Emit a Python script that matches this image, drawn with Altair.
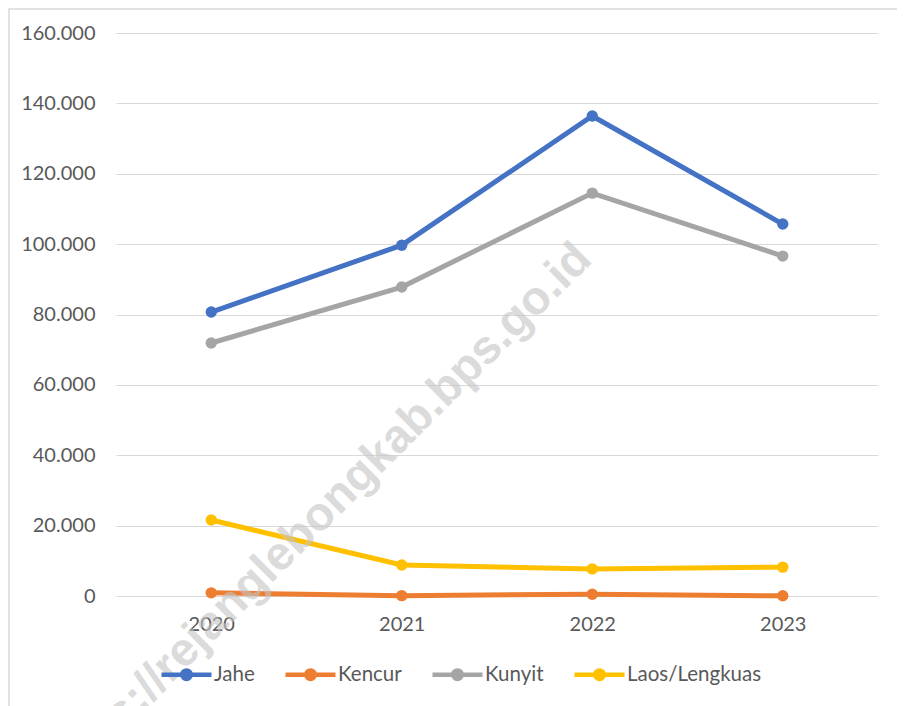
import altair as alt
import pandas as pd

years = ["2020", "2021", "2022", "2023"]
series_names = ["Jahe", "Kencur", "Kunyit", "Laos/Lengkuas"]
jahe = [80700, 99700, 136400, 105700]
kencur = [900, 100, 500, 50]
kunyit = [71900, 87800, 114500, 96600]
laos = [21600, 8800, 7700, 8200]
colors = ["#4472C4", "#ED7D31", "#A5A5A5", "#FFC000"]
y_ticks = [0, 20000, 40000, 60000, 80000, 100000, 120000, 140000, 160000]
watermark = "https://rejanglebongkab.bps.go.id"

rows = []
for name, vals in zip(series_names, [jahe, kencur, kunyit, laos]):
    for yr, v in zip(years, vals):
        rows.append({"Tahun": yr, "Series": name, "Nilai": v})
df = pd.DataFrame(rows)

FONT = "Lato"
TXT = "#595959"
W, H = 762, 563

legend_symbol = "M-1,0L1,0M0.17,0A0.17,0.17,0,1,1,-0.17,0A0.17,0.17,0,1,1,0.17,0Z"
legend = alt.Legend(
    title=None, orient="none", direction="horizontal", columns=4,
    legendX=43, legendY=614, padding=0,
    symbolType=legend_symbol, symbolSize=2500, symbolStrokeWidth=4.5,
    symbolOpacity=1, columnPadding=21, labelOffset=0,
    labelFont=FONT, labelFontSize=20.5, labelColor=TXT,
)
cscale = alt.Scale(domain=series_names, range=colors)

x_enc = alt.X("Tahun:O", scale=alt.Scale(type="point", padding=0.5),
              sort=years,
              axis=alt.Axis(title=None, labelAngle=0, domain=False, ticks=False,
                            grid=False, labelFont=FONT, labelFontSize=20,
                            labelColor=TXT, labelPadding=18))
y_enc = alt.Y("Nilai:Q", scale=alt.Scale(domain=[0, 160000], nice=False),
              axis=alt.Axis(title=None, values=y_ticks, domain=False, ticks=False,
                            grid=True, gridColor="#D9D9D9", gridWidth=1.2,
                            labelFont=FONT, labelFontSize=20, labelColor=TXT,
                            labelPadding=21,
                            labelExpr="replace(format(datum.value, ','), ',', '.')"))

base = alt.Chart(df)
lines = base.mark_line(strokeWidth=5, opacity=1).encode(
    x=x_enc, y=y_enc,
    stroke=alt.Stroke("Series:N", scale=cscale, legend=legend, sort=series_names),
    detail="Series:N",
)
points = base.mark_point(filled=True, size=130, opacity=1, strokeWidth=0).encode(
    x=x_enc, y=y_enc,
    fill=alt.Fill("Series:N", scale=cscale, legend=legend, sort=series_names),
    stroke=alt.Stroke("Series:N", scale=cscale, legend=legend, sort=series_names),
)

border = alt.Chart(pd.DataFrame({"a": [0]})).mark_rect(
    fill="transparent", stroke="#D9D9D9", strokeWidth=1.5
).encode(
    x=alt.value(-107), x2=alt.value(W + 60),
    y=alt.value(-24), y2=alt.value(H + 220),
)

wm = alt.Chart(pd.DataFrame({"t": [watermark]})).mark_text(
    font="Liberation Sans", fontWeight="bold", fontSize=47, angle=315,
    align="center", baseline="middle", color="#C4C4C4", opacity=0.6,
).encode(
    text="t:N", x=alt.value(201), y=alt.value(485),
)

chart = alt.layer(border, lines, points, wm).properties(
    width=W, height=H,
    autosize=alt.AutoSizeParams(type="none"),
    padding={"left": 108, "top": 25, "right": 19, "bottom": 110},
).configure(background="white").configure_view(strokeWidth=0, stroke="transparent")

chart.save("out.html", embed_options={"renderer": "svg", "actions": False})
